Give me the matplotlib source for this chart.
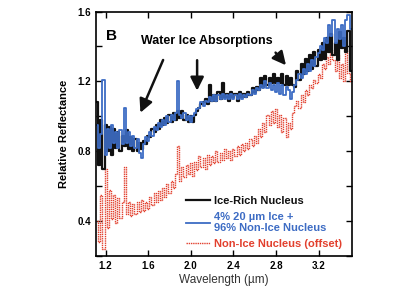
import matplotlib
matplotlib.use("Agg")
import matplotlib.pyplot as plt
from matplotlib.ticker import MultipleLocator

plt.rcParams["font.family"] = ["Liberation Sans", "DejaVu Sans"]

# ── Data ───────────────────────────────────────────────────
wavelength = [
    1.12, 1.14, 1.16, 1.18, 1.20, 1.22, 1.24, 1.26, 1.28, 1.30,
    1.32, 1.34, 1.36, 1.38, 1.40, 1.42, 1.44, 1.46, 1.48, 1.50,
    1.52, 1.54, 1.56, 1.58, 1.60, 1.62, 1.64, 1.66, 1.68, 1.70,
    1.72, 1.74, 1.76, 1.78, 1.80, 1.82, 1.84, 1.86, 1.88, 1.90,
    1.92, 1.94, 1.96, 1.98, 2.00, 2.02, 2.04, 2.06, 2.08, 2.10,
    2.12, 2.14, 2.16, 2.18, 2.20, 2.22, 2.24, 2.26, 2.28, 2.30,
    2.32, 2.34, 2.36, 2.38, 2.40, 2.42, 2.44, 2.46, 2.48, 2.50,
    2.52, 2.54, 2.56, 2.58, 2.60, 2.62, 2.64, 2.66, 2.68, 2.70,
    2.72, 2.74, 2.76, 2.78, 2.80, 2.82, 2.84, 2.86, 2.88, 2.90,
    2.92, 2.94, 2.96, 2.98, 3.00, 3.02, 3.04, 3.06, 3.08, 3.10,
    3.12, 3.14, 3.16, 3.18, 3.20, 3.22, 3.24, 3.26, 3.28, 3.30,
    3.32, 3.34, 3.36, 3.38, 3.40, 3.42, 3.44, 3.46, 3.48, 3.50,
]

ice_rich = [
    1.08, 0.72, 0.98, 0.70, 0.95, 0.80, 0.94, 0.78, 0.93, 0.82,
    0.91, 0.80, 0.89, 0.83, 0.92, 0.81, 0.88, 0.80, 0.87, 0.80,
    0.85, 0.81, 0.86, 0.84, 0.89, 0.88, 0.93, 0.91, 0.95, 0.93,
    0.98, 0.95, 0.99, 0.96, 1.01, 0.97, 1.02, 0.98, 1.03, 0.99,
    1.03, 0.98, 1.01, 0.97, 1.00, 0.97, 1.01, 1.03, 1.05, 1.07,
    1.08, 1.10, 1.07, 1.18, 1.09, 1.12, 1.09, 1.14, 1.10, 1.19,
    1.11, 1.13, 1.09, 1.14, 1.11, 1.13, 1.09, 1.14, 1.11, 1.13,
    1.11, 1.14, 1.12, 1.16, 1.14, 1.17, 1.15, 1.22, 1.17, 1.23,
    1.18, 1.22, 1.19, 1.24, 1.19, 1.22, 1.19, 1.24, 1.18, 1.23,
    1.18, 1.22, 1.18, 1.17, 1.26, 1.21, 1.30, 1.24, 1.33, 1.26,
    1.35, 1.27, 1.37, 1.29, 1.38, 1.32, 1.42, 1.33, 1.45, 1.37,
    1.47, 1.35, 1.42, 1.32, 1.48, 1.39, 1.45, 1.37, 1.49, 1.26,
]

ice_mix = [
    0.95, 0.82, 0.90, 1.21, 0.78, 0.93, 0.82, 0.95, 0.85, 0.91,
    0.82, 0.92, 0.84, 1.05, 0.85, 0.91, 0.83, 0.89, 0.82, 0.87,
    0.79, 0.76, 0.84, 0.88, 0.86, 0.91, 0.89, 0.94, 0.92, 0.96,
    0.94, 0.98, 0.95, 1.00, 0.97, 1.01, 0.98, 1.02, 1.20, 1.01,
    0.99, 1.02, 0.98, 1.00, 0.97, 1.00, 1.02, 1.04, 1.05, 1.08,
    1.06, 1.09, 1.08, 1.11, 1.09, 1.12, 1.09, 1.12, 1.10, 1.13,
    1.10, 1.12, 1.10, 1.13, 1.10, 1.12, 1.10, 1.13, 1.10, 1.12,
    1.11, 1.13, 1.12, 1.15, 1.13, 1.16, 1.15, 1.18, 1.16, 1.20,
    1.16, 1.19, 1.15, 1.18, 1.14, 1.19, 1.13, 1.18, 1.12, 1.17,
    1.15, 1.10, 1.14, 1.18, 1.21, 1.24, 1.22, 1.27, 1.24, 1.30,
    1.26, 1.32, 1.29, 1.34, 1.36, 1.40, 1.38, 1.45, 1.42, 1.52,
    1.46, 1.55, 1.42, 1.50, 1.44, 1.52, 1.40, 1.55, 1.58, 1.50,
]

non_ice = [
    0.40, 0.28, 0.55, 0.24, 0.70, 0.36, 0.58, 0.41, 0.55, 0.39,
    0.53, 0.42, 0.51, 0.71, 0.44, 0.51, 0.43, 0.50, 0.44, 0.51,
    0.45, 0.52, 0.46, 0.51, 0.47, 0.54, 0.49, 0.56, 0.51, 0.57,
    0.52, 0.59, 0.54, 0.61, 0.56, 0.63, 0.59, 0.67, 0.83, 0.63,
    0.71, 0.65, 0.72, 0.67, 0.73, 0.66, 0.74, 0.69, 0.77, 0.71,
    0.76, 0.70, 0.78, 0.72, 0.77, 0.73, 0.80, 0.74, 0.79, 0.75,
    0.81, 0.76, 0.80, 0.75, 0.81, 0.77, 0.83, 0.78, 0.84, 0.80,
    0.85, 0.81, 0.87, 0.83, 0.89, 0.85, 0.93, 0.88, 0.96, 0.91,
    1.01, 0.95, 1.03, 0.96, 1.04, 0.94, 1.01, 0.91, 0.99, 0.88,
    0.96, 0.93, 1.02, 1.06, 1.09, 1.05, 1.12, 1.08, 1.15, 1.12,
    1.18, 1.16, 1.21, 1.19, 1.24, 1.22, 1.30, 1.27, 1.34, 1.30,
    1.38, 1.32, 1.26, 1.35, 1.22, 1.30, 1.20, 1.38, 1.25, 1.20,
]

BLACK = "#111111"
BLUE  = "#3d6cc4"
RED   = "#e2402e"

fig = plt.figure(figsize=(4.07, 2.88), dpi=100)
ax = fig.add_axes([0.236, 0.111, 0.628, 0.849])

ax.plot(wavelength, non_ice, drawstyle="steps-mid", color=RED, lw=1.0,
        linestyle=(0, (1, 0.6)), label="Non-Ice Nucleus (offset)")
ax.plot(wavelength, ice_rich, drawstyle="steps-mid", color=BLACK, lw=1.6,
        label="Ice-Rich Nucleus")
ax.plot(wavelength, ice_mix, drawstyle="steps-mid", color=BLUE, lw=1.3,
        label="4% 20 µm Ice +\n96% Non-Ice Nucleus")

ax.set_xlim(1.11, 3.51)
ax.set_ylim(0.2, 1.6)
ax.yaxis.set_minor_locator(MultipleLocator(0.2))
ax.tick_params(which="both", direction="in", top=True, right=True,
               width=1.0, length=4, labelsize=7)
ax.set_xticks([1.2, 1.6, 2.0, 2.4, 2.8, 3.2])
ax.set_yticks([0.4, 0.8, 1.2, 1.6])
for lbl in ax.get_xticklabels() + ax.get_yticklabels():
    lbl.set_fontweight("bold")
for sp in ax.spines.values():
    sp.set_linewidth(1.2)

ax.set_xlabel("Wavelength (µm)", fontsize=8.5, color="#333333", labelpad=2)
ax.set_ylabel("Relative Reflectance", fontsize=8, fontweight="bold", labelpad=6)

# annotations
ax.text(1.205, 1.46, "B", fontsize=11, fontweight="bold", va="center")
ax.text(2.15, 1.434, "Water Ice Absorptions", fontsize=9, fontweight="bold",
        ha="center", va="center")
arrow = dict(arrowstyle="-|>,head_length=0.8,head_width=0.4", color=BLACK, lw=1.8)
ax.annotate("", xy=(1.516, 1.006), xytext=(1.75, 1.337), arrowprops=arrow)
ax.annotate("", xy=(2.059, 1.131), xytext=(2.059, 1.337), arrowprops=arrow)
ax.annotate("", xy=(2.91, 1.28), xytext=(2.779, 1.377), arrowprops=arrow)

handles, labels = ax.get_legend_handles_labels()
order = [1, 2, 0]
leg = ax.legend([handles[i] for i in order], [labels[i] for i in order],
                loc="lower left", bbox_to_anchor=(0.325, 0.0), frameon=False,
                fontsize=8, handlelength=2.2, handletextpad=0.3,
                labelspacing=0.55, borderaxespad=0.2)
for txt, col in zip(leg.get_texts(), [BLACK, BLUE, RED]):
    txt.set_color(col)
    txt.set_fontweight("bold")

plt.savefig("out.png", dpi=100)
plt.close()
